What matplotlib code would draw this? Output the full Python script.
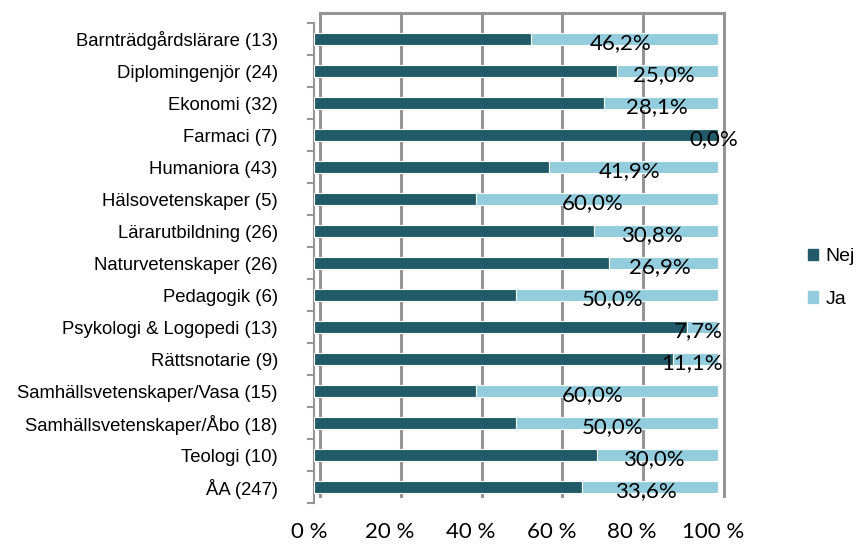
import matplotlib
matplotlib.use("Agg")
import matplotlib.pyplot as plt
import matplotlib.transforms as mtransforms
from matplotlib.patches import Patch
import numpy as np

categories = ["Barnträdgårdslärare (13)", "Diplomingenjör (24)", "Ekonomi (32)", "Farmaci (7)",
              "Humaniora (43)", "Hälsovetenskaper (5)", "Lärarutbildning (26)", "Naturvetenskaper (26)",
              "Pedagogik (6)", "Psykologi & Logopedi (13)", "Rättsnotarie (9)",
              "Samhällsvetenskaper/Vasa (15)", "Samhällsvetenskaper/Åbo (18)", "Teologi (10)", "ÅA (247)"]
ja = [46.2, 25.0, 28.1, 0.0, 41.9, 60.0, 30.8, 26.9, 50.0, 7.7, 11.1, 60.0, 50.0, 30.0, 33.6]
nej = [100 - v for v in ja]
ja_labels = ["46,2%", "25,0%", "28,1%", "0,0%", "41,9%", "60,0%", "30,8%", "26,9%", "50,0%",
             "7,7%", "11,1%", "60,0%", "50,0%", "30,0%", "33,6%"]
xticks = [0, 20, 40, 60, 80, 100]
xtick_labels = ["0 %", "20 %", "40 %", "60 %", "80 %", "100 %"]

cat_font, cat_size = "Liberation Sans", 13.3

c_nej = "#215B6A"
c_ja = "#93CDDD"
grid_c = "#959595"

W, H = 858, 547
fig = plt.figure(figsize=(W / 100, H / 100), dpi=100)
ax = fig.add_axes([314 / W, 1 - 503 / H, (718 - 314) / W, (503 - 23) / H])

n = len(categories)
y = np.arange(n)
ax.set_ylim(n - 0.5, -0.5)
ax.set_xlim(0, 100)

# back-wall gridlines (offset to mimic 3D)
off = mtransforms.ScaledTranslation(6 / 100, 5 / 100, fig.dpi_scale_trans)
for xv in xticks:
    ax.plot([xv, xv], [n - 0.55, -0.65], color=grid_c, lw=2.2, transform=ax.transData + off,
            clip_on=False, zorder=0)
ax.plot([0, 100], [-0.65, -0.65], color=grid_c, lw=2.2, transform=ax.transData + off,
        clip_on=False, zorder=0)

bh = 0.38
ax.barh(y, nej, height=bh, color=c_nej, edgecolor="white", linewidth=0.8, zorder=3)
ax.barh(y, ja, left=nej, height=bh, color=c_ja, edgecolor="white", linewidth=0.8, zorder=3)

for i in range(n):
    cx = nej[i] + ja[i] / 2
    ax.text(cx - 1, y[i] + 0.14, ja_labels[i], ha="center", va="center", fontsize=16,
            family="Lato", color="black", zorder=5)

for s in ax.spines.values():
    s.set_visible(False)
# left axis line with ticks
ax.plot([0, 0], [n - 0.5, -0.5], color=grid_c, lw=1.5, clip_on=False, zorder=1)
for b in np.arange(-0.5, n, 1.0):
    ax.plot([-1.5, 0], [b, b], color=grid_c, lw=1.5, clip_on=False, zorder=1)

ax.set_yticks(y)
ax.set_yticklabels(categories, fontsize=cat_size, family=cat_font)
ax.set_xticks(xticks)
ax.set_xticklabels(xtick_labels, fontsize=16, family="Lato")
ax.tick_params(axis="y", length=0, pad=26)
ax.tick_params(axis="x", length=0, pad=14)
shift = mtransforms.ScaledTranslation(-5 / 100, 0, fig.dpi_scale_trans)
for lbl in ax.get_xticklabels():
    lbl.set_transform(lbl.get_transform() + shift)

# legend
handles = [Patch(color=c_nej, label="Nej"), Patch(color=c_ja, label="Ja")]
fig.legend(handles=handles, loc="center left", bbox_to_anchor=(800 / W, 1 - 278 / H),
           frameon=False, handlelength=0.55, handleheight=0.55,
           labelspacing=1.3, handletextpad=0.35, borderaxespad=0,
           prop={"family": cat_font, "size": 14})

fig.savefig("out.png", dpi=100)
